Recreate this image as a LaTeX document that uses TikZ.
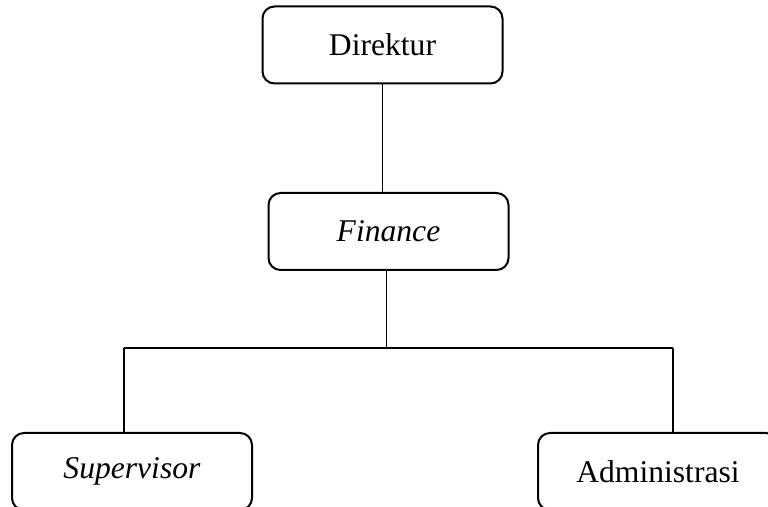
\documentclass[tikz,border=0pt]{standalone}
\usepackage{fontspec}
\setmainfont{Liberation Serif}
\usetikzlibrary{positioning}

\tikzset{
  unitbox/.style={draw, line width=1pt, rounded corners=6pt,
    minimum width=120pt, minimum height=38.5pt, inner sep=0pt,
    font=\fontsize{15.8}{18}\selectfont},
  link/.style={line width=0.75pt}
}

\begin{document}
\begin{tikzpicture}[x=0.5pt,y=-0.5pt]
  \useasboundingbox (0,0) rectangle (768,507);
  \clip (0,0) rectangle (768,507);
  % boxes
  \node[unitbox] (Direktur) at (382.5,45) {Direktur};
  \node[unitbox] (Finance) at (388.5,231.5) {\textit{Finance}};
  \node[unitbox] (Supervisor) at (132,471.5) {\textit{Supervisor}};
  \node[unitbox] (Administrasi) at (658,471.5) {Administrasi};
  % bar ends
  \coordinate (barL) at (124,348);
  \coordinate (barR) at (673,348);
  % connectors
  \draw[link] (Direktur.south) -- (Direktur.south |- Finance.north);
  \draw[link] ([xshift=-1pt]Finance.south) -- ([xshift=-1pt]Finance.south |- barL);
  \draw[link] (barL) -- (barR);
  \draw[link] (barL) -- (barL |- Supervisor.north);
  \draw[link] (barR) -- (barR |- Administrasi.north);
\end{tikzpicture}
\end{document}
